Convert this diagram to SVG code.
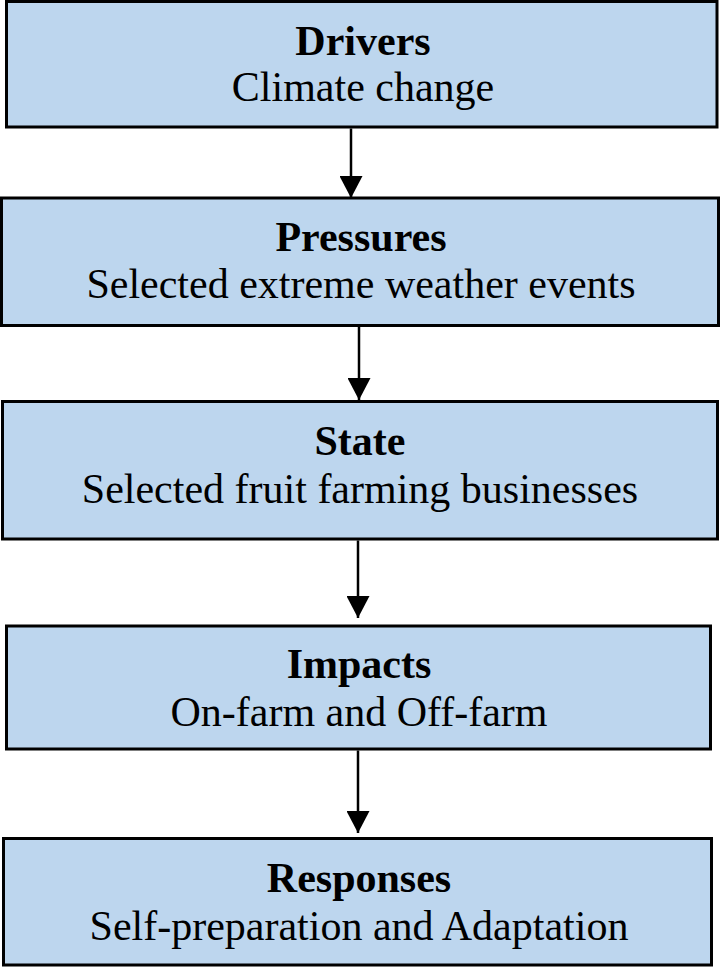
<svg xmlns="http://www.w3.org/2000/svg" width="722" height="969" viewBox="0 0 722 969">
  <style>
    .box { fill: #BDD6EE; stroke: #000; stroke-width: 3; }
    .t { font-family: "Liberation Serif", "Times New Roman", serif; font-size: 42px; fill: #000; text-anchor: middle; }
    .b { font-weight: bold; }
    .conn { stroke: #000; stroke-width: 2.5; fill: none; marker-end: url(#arr); }
  </style>
  <defs>
    <marker id="arr" markerUnits="userSpaceOnUse" markerWidth="23" markerHeight="23" refX="22" refY="11.5" orient="auto">
      <path d="M0,0 L22,11.5 L0,23 Z" fill="#000"/>
    </marker>
  </defs>
  <rect width="722" height="969" fill="#fff"/>
  <g id="drivers">
    <rect class="box" x="6.5" y="1.5" width="710.5" height="125.5"/>
    <text class="t b" x="363" y="55">Drivers</text>
    <text class="t" x="363" y="101">Climate change</text>
  </g>
  <g id="pressures">
    <rect class="box" x="1.5" y="198" width="717" height="127.5"/>
    <text class="t b" x="361" y="251">Pressures</text>
    <text class="t" x="361" y="298">Selected extreme weather events</text>
  </g>
  <g id="state">
    <rect class="box" x="2.5" y="401.5" width="715" height="137.5"/>
    <text class="t b" x="360" y="455">State</text>
    <text class="t" x="360" y="503">Selected fruit farming businesses</text>
  </g>
  <g id="impacts">
    <rect class="box" x="6.5" y="626" width="704" height="123"/>
    <text class="t b" x="359" y="678">Impacts</text>
    <text class="t" x="359" y="726">On-farm and Off-farm</text>
  </g>
  <g id="responses">
    <rect class="box" x="3.5" y="838.5" width="708" height="126.5"/>
    <text class="t b" x="359" y="892">Responses</text>
    <text class="t" x="359" y="940">Self-preparation and Adaptation</text>
  </g>
  <g id="connectors">
    <line class="conn" x1="351" y1="128.5" x2="351" y2="198"/>
    <line class="conn" x1="359" y1="327" x2="359" y2="400"/>
    <line class="conn" x1="358" y1="540.5" x2="358" y2="618"/>
    <line class="conn" x1="358" y1="750.5" x2="358" y2="833"/>
  </g>
</svg>
